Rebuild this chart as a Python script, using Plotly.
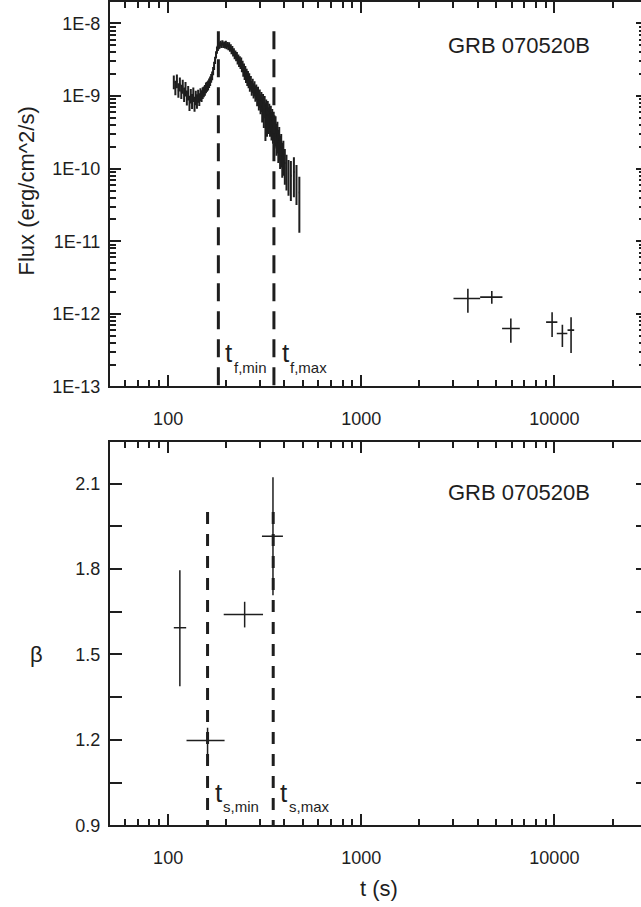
import math
import plotly.graph_objects as go

# ---------------- data ----------------
# Top panel: X-ray light curve (flux in units of 1e-9 erg/cm^2/s)
lc_t = [107, 109, 111, 113, 115, 117, 119, 121, 123, 125, 127, 129, 131, 133, 135,
        137, 139, 141, 143, 145, 147, 149, 151, 153, 155, 157, 159, 161, 163, 165,
        167, 169, 171, 173, 175, 177, 179,
        181, 183, 185, 187, 189, 191, 193, 195, 197, 199, 201, 203, 205, 207, 209,
        211, 213, 215, 217, 219, 221, 223, 225, 227, 229, 231, 233, 235, 237, 239,
        241, 243, 245, 247, 249, 251, 253, 255, 257, 259, 261, 263, 265, 268, 271,
        274, 277, 280, 283, 286, 289, 292, 295, 298, 301, 304, 307, 310, 313, 316,
        319, 322, 325, 328, 331, 334, 337, 340, 343, 346, 349, 352, 356, 360, 364,
        368, 372, 376, 380, 385, 390, 395, 402, 410, 420, 432, 448, 462, 478]
lc_flux = [1.55, 1.30, 1.60, 1.20, 1.45, 1.15, 1.35, 1.05, 1.25, 0.95, 1.10, 0.80, 1.00, 0.85, 1.05,
           0.78, 0.95, 0.85, 1.00, 0.90, 1.05, 1.00, 1.10, 1.15, 1.20, 1.30, 1.35, 1.40, 1.50, 1.60,
           1.75, 1.90, 2.20, 2.60, 3.10, 3.70, 4.30,
           4.60, 5.10, 4.90, 5.30, 5.00, 5.40, 5.00, 5.20, 4.90, 5.30, 4.80, 5.10, 4.70, 5.00, 4.50,
           4.70, 4.20, 4.40, 3.90, 4.10, 3.60, 3.80, 3.40, 3.60, 3.10, 3.30, 2.90, 3.10, 2.75, 2.95,
           2.50, 2.65, 2.20, 2.40, 2.00, 2.20, 1.85, 2.00, 1.70, 1.85, 1.60, 1.70, 1.45, 1.55, 1.30,
           1.40, 1.20, 1.28, 1.10, 1.15, 0.98, 1.05, 0.88, 0.95, 0.80, 0.86, 0.72, 0.80, 0.66, 0.74,
           0.60, 0.66, 0.55, 0.62, 0.50, 0.56, 0.46, 0.52, 0.42, 0.46, 0.38, 0.42, 0.34, 0.36, 0.28,
           0.30, 0.23, 0.25, 0.19, 0.20, 0.15, 0.16, 0.12, 0.10, 0.085, 0.080, 0.090, 0.070, 0.047]
# relative errors (upper / lower)
lc_rel_up = [0.24, 0.25, 0.24, 0.25, 0.24, 0.25, 0.24, 0.25, 0.25, 0.26, 0.25, 0.26, 0.25, 0.26, 0.25,
             0.26, 0.25, 0.25, 0.22, 0.22, 0.22, 0.20, 0.20, 0.18, 0.18, 0.18, 0.17, 0.17, 0.16, 0.16,
             0.15, 0.15, 0.14, 0.14, 0.12, 0.12, 0.12,
             0.10, 0.09, 0.09, 0.09, 0.09, 0.09, 0.09, 0.09, 0.09, 0.09, 0.09, 0.09, 0.10, 0.10, 0.10,
             0.10, 0.11, 0.11, 0.11, 0.11, 0.12, 0.12, 0.12, 0.12, 0.13, 0.13, 0.14, 0.14, 0.15, 0.15,
             0.16, 0.16, 0.17, 0.17, 0.18, 0.18, 0.19, 0.19, 0.20, 0.20, 0.21, 0.21, 0.22, 0.22, 0.24,
             0.24, 0.25, 0.25, 0.26, 0.26, 0.28, 0.28, 0.30, 0.30, 0.32, 0.32, 0.34, 0.34, 0.35, 0.35,
             0.36, 0.36, 0.38, 0.38, 0.40, 0.40, 0.42, 0.42, 0.44, 0.44, 0.45, 0.45, 0.46, 0.46, 0.48,
             0.48, 0.50, 0.50, 0.50, 0.50, 0.52, 0.52, 0.55, 0.55, 0.55, 0.60, 0.60, 0.60, 0.65]
lc_rel_dn = [0.20, 0.21, 0.20, 0.21, 0.20, 0.21, 0.20, 0.21, 0.21, 0.22, 0.21, 0.22, 0.21, 0.22, 0.21,
             0.22, 0.21, 0.21, 0.19, 0.19, 0.19, 0.17, 0.17, 0.16, 0.16, 0.16, 0.15, 0.15, 0.14, 0.14,
             0.13, 0.13, 0.12, 0.12, 0.11, 0.11, 0.11,
             0.09, 0.08, 0.08, 0.08, 0.08, 0.08, 0.08, 0.08, 0.08, 0.08, 0.08, 0.08, 0.09, 0.09, 0.09,
             0.09, 0.10, 0.10, 0.10, 0.10, 0.11, 0.11, 0.11, 0.11, 0.12, 0.12, 0.13, 0.13, 0.14, 0.14,
             0.15, 0.15, 0.16, 0.16, 0.17, 0.17, 0.18, 0.18, 0.19, 0.19, 0.20, 0.20, 0.21, 0.21, 0.22,
             0.22, 0.23, 0.23, 0.24, 0.24, 0.26, 0.26, 0.28, 0.28, 0.30, 0.30, 0.40, 0.32, 0.45, 0.33,
             0.60, 0.34, 0.50, 0.35, 0.40, 0.36, 0.40, 0.38, 0.42, 0.40, 0.42, 0.42, 0.44, 0.44, 0.46,
             0.46, 0.48, 0.48, 0.48, 0.48, 0.50, 0.50, 0.50, 0.50, 0.50, 0.55, 0.55, 0.55, 0.72]

# late-time points
late_t = [3565, 4742, 5950, 9730, 11000, 12200]
late_t_lo = [3003, 4127, 5360, 9060, 10290, 11700]
late_t_hi = [4127, 5383, 6620, 10360, 11670, 12660]
late_flux = [1.63e-12, 1.70e-12, 6.3e-13, 7.7e-13, 5.37e-13, 5.97e-13]
late_f_hi = [2.22e-12, 2.06e-12, 8.65e-13, 1.05e-12, 7.1e-13, 9.0e-13]
late_f_lo = [1.04e-12, 1.38e-12, 4.0e-13, 4.8e-13, 3.5e-13, 2.9e-13]

tf_min, tf_max = 182, 353
tf_top = 7.8e-9

# Bottom panel: spectral index
beta_t = [115, 160, 249, 349]
beta_t_lo = [107, 124.5, 194, 306]
beta_t_hi = [124, 196, 310, 393]
beta = [1.594, 1.198, 1.640, 1.915]
beta_hi = [1.796, 1.243, 1.685, 2.122]
beta_lo = [1.389, 1.143, 1.595, 1.708]

ts_min, ts_max = 160, 350
ts_top = 2.0

x_ticks = [100, 1000, 10000]
x_minor = [60, 70, 80, 90] + [m * 100 for m in range(2, 10)] + [m * 1000 for m in range(2, 10)] + [20000]
flux_ticks = [1e-13, 1e-12, 1e-11, 1e-10, 1e-9, 1e-8]
flux_labels = ["1E-13", "1E-12", "1E-11", "1E-10", "1E-9", "1E-8"]
flux_minor = [m * 10.0 ** e for e in range(-13, -7) for m in range(2, 10)]
beta_ticks = [0.9, 1.05, 1.2, 1.35, 1.5, 1.65, 1.8, 1.95, 2.1]
beta_labels = ["0.9", "", "1.2", "", "1.5", "", "1.8", "", "2.1"]

# ---------------- figure ----------------
W, H = 641, 907
FONT = "Liberation Sans, Arial, sans-serif"
INK = "#1e1e1e"
VSCALE = 0.989  # compensation for the vertical scale seen in the rendered picture


def py(y):
    return 1 - ((y - 0.5) / VSCALE) / H


def px(x):
    return x / W


fig = go.Figure()

lc_f = [f * 1e-9 for f in lc_flux]
fig.add_trace(go.Scatter(
    x=lc_t, y=lc_f, mode="markers", marker=dict(size=1, color=INK),
    error_y=dict(type="data", symmetric=False,
                 array=[f * r for f, r in zip(lc_f, lc_rel_up)],
                 arrayminus=[f * r for f, r in zip(lc_f, lc_rel_dn)],
                 width=0, thickness=2, color=INK),
    error_x=dict(type="percent", value=0.6, width=0, thickness=2, color=INK),
    xaxis="x", yaxis="y", hoverinfo="skip"))

fig.add_trace(go.Scatter(
    x=late_t, y=late_flux, mode="markers", marker=dict(size=1, color=INK),
    error_y=dict(type="data", symmetric=False,
                 array=[h - f for h, f in zip(late_f_hi, late_flux)],
                 arrayminus=[f - l for f, l in zip(late_flux, late_f_lo)],
                 width=0, thickness=1.6, color=INK),
    error_x=dict(type="data", symmetric=False,
                 array=[h - t for h, t in zip(late_t_hi, late_t)],
                 arrayminus=[t - l for t, l in zip(late_t, late_t_lo)],
                 width=0, thickness=1.6, color=INK),
    xaxis="x", yaxis="y", hoverinfo="skip"))

for tv in (tf_min, tf_max):
    fig.add_trace(go.Scatter(x=[tv, tv], y=[tf_top, flux_ticks[0]], mode="lines",
                             line=dict(color=INK, width=3, dash="18px,10px"),
                             xaxis="x", yaxis="y", hoverinfo="skip"))

fig.add_trace(go.Scatter(
    x=beta_t, y=beta, mode="markers", marker=dict(size=1, color=INK),
    error_y=dict(type="data", symmetric=False,
                 array=[h - b for h, b in zip(beta_hi, beta)],
                 arrayminus=[b - l for b, l in zip(beta, beta_lo)],
                 width=0, thickness=1.5, color=INK),
    error_x=dict(type="data", symmetric=False,
                 array=[h - t for h, t in zip(beta_t_hi, beta_t)],
                 arrayminus=[t - l for t, l in zip(beta_t, beta_t_lo)],
                 width=0, thickness=1.5, color=INK),
    xaxis="x2", yaxis="y2", hoverinfo="skip"))

for tv in (ts_min, ts_max):
    fig.add_trace(go.Scatter(x=[tv, tv], y=[ts_top, beta_ticks[0]], mode="lines",
                             line=dict(color=INK, width=3, dash="12px,10px"),
                             xaxis="x2", yaxis="y2", hoverinfo="skip"))

fig.add_trace(go.Scatter(x=[], y=[], xaxis="x", yaxis="y3", hoverinfo="skip"))
fig.add_trace(go.Scatter(x=[], y=[], xaxis="x2", yaxis="y4", hoverinfo="skip"))

x_range = [math.log10(50), 4.4485]
y_top_range = [-13, -7.711]
top_dom = [py(387), min(1.0, py(3))]
bot_dom = [py(826), py(443)]
x_dom = [px(110), 1.0]

tickfont = dict(family=FONT, size=18, color=INK)


def xaxis(anchor):
    return dict(type="log", range=x_range, domain=x_dom, anchor=anchor,
                showline=True, linewidth=2, linecolor=INK, mirror="ticks",
                ticks="inside", ticklen=11, tickwidth=2, tickcolor=INK,
                tickvals=x_ticks, ticktext=[str(v) for v in x_ticks],
                tickfont=tickfont, ticklabelstandoff=15,
                minor=dict(tickmode="array", tickvals=x_minor, ticks="inside",
                           ticklen=6, tickwidth=1.5, tickcolor=INK, showgrid=False),
                showgrid=False, zeroline=False)


fig.update_layout(
    width=W, height=H, margin=dict(l=0, r=0, t=0, b=0),
    paper_bgcolor="white", plot_bgcolor="white", showlegend=False,
    xaxis=xaxis("y"),
    xaxis2=xaxis("y2"),
    yaxis=dict(type="log", range=y_top_range, domain=top_dom, anchor="x",
               showline=True, linewidth=2, linecolor=INK,
               ticks="inside", ticklen=11, tickwidth=2, tickcolor=INK,
               tickvals=flux_ticks, ticktext=flux_labels, tickfont=tickfont,
               ticklabelstandoff=4,
               minor=dict(tickmode="array", tickvals=flux_minor, ticks="inside",
                          ticklen=6, tickwidth=1.5, tickcolor=INK, showgrid=False),
               showgrid=False, zeroline=False),
    yaxis3=dict(type="log", range=y_top_range, overlaying="y",
                side="right", anchor="x", showline=False,
                ticks="inside", ticklen=5, tickwidth=2, tickcolor=INK,
                tickvals=flux_ticks, showticklabels=False,
                minor=dict(tickmode="array", tickvals=flux_minor, ticks="inside",
                           ticklen=2, tickwidth=1.5, tickcolor=INK, showgrid=False),
                showgrid=False, zeroline=False),
    yaxis2=dict(range=[0.9, 2.244], domain=bot_dom, anchor="x2",
                showline=True, linewidth=2, linecolor=INK,
                ticks="inside", ticklen=12, tickwidth=2, tickcolor=INK,
                tickvals=beta_ticks, ticktext=beta_labels, tickfont=tickfont,
                ticklabelstandoff=4, showgrid=False, zeroline=False),
    yaxis4=dict(range=[0.9, 2.244], overlaying="y2", side="right", anchor="x2",
                showline=False, ticks="inside", ticklen=5, tickwidth=2, tickcolor=INK,
                tickvals=beta_ticks, showticklabels=False,
                showgrid=False, zeroline=False),
)


def ann(text, x, y, size, xanchor="left", yanchor="middle", angle=0):
    fig.add_annotation(text=text, x=px(x), y=py(y), xref="paper", yref="paper",
                       xanchor=xanchor, yanchor=yanchor, showarrow=False,
                       textangle=angle, borderpad=0,
                       font=dict(family=FONT, size=size, color=INK))


ann("GRB 070520B", 447, 46, 22)
ann("GRB 070520B", 447, 493, 22)
ann("Flux (erg/cm^2/s)", 26, 192, 22, xanchor="center", angle=-90)
ann("β", 36, 655, 22, xanchor="center")
ann("t (s)", 379, 889, 22, xanchor="center")

ann("t", 224, 354, 26)
ann("f,min", 233, 368, 15)
ann("t", 281, 354, 26)
ann("f,max", 289, 368, 15)
ann("t", 214, 794, 26)
ann("s,min", 222, 807, 15)
ann("t", 279, 794, 26)
ann("s,max", 288, 807, 15)

page_css = ("document.documentElement.style.margin='0';"
            "document.documentElement.style.padding='0';"
            "document.documentElement.style.overflow='hidden';"
            "document.body.style.margin='0';"
            "document.body.style.padding='0';"
            "document.body.style.overflow='hidden';")

fig.write_html("out.html", config={"displayModeBar": False}, post_script=page_css)
